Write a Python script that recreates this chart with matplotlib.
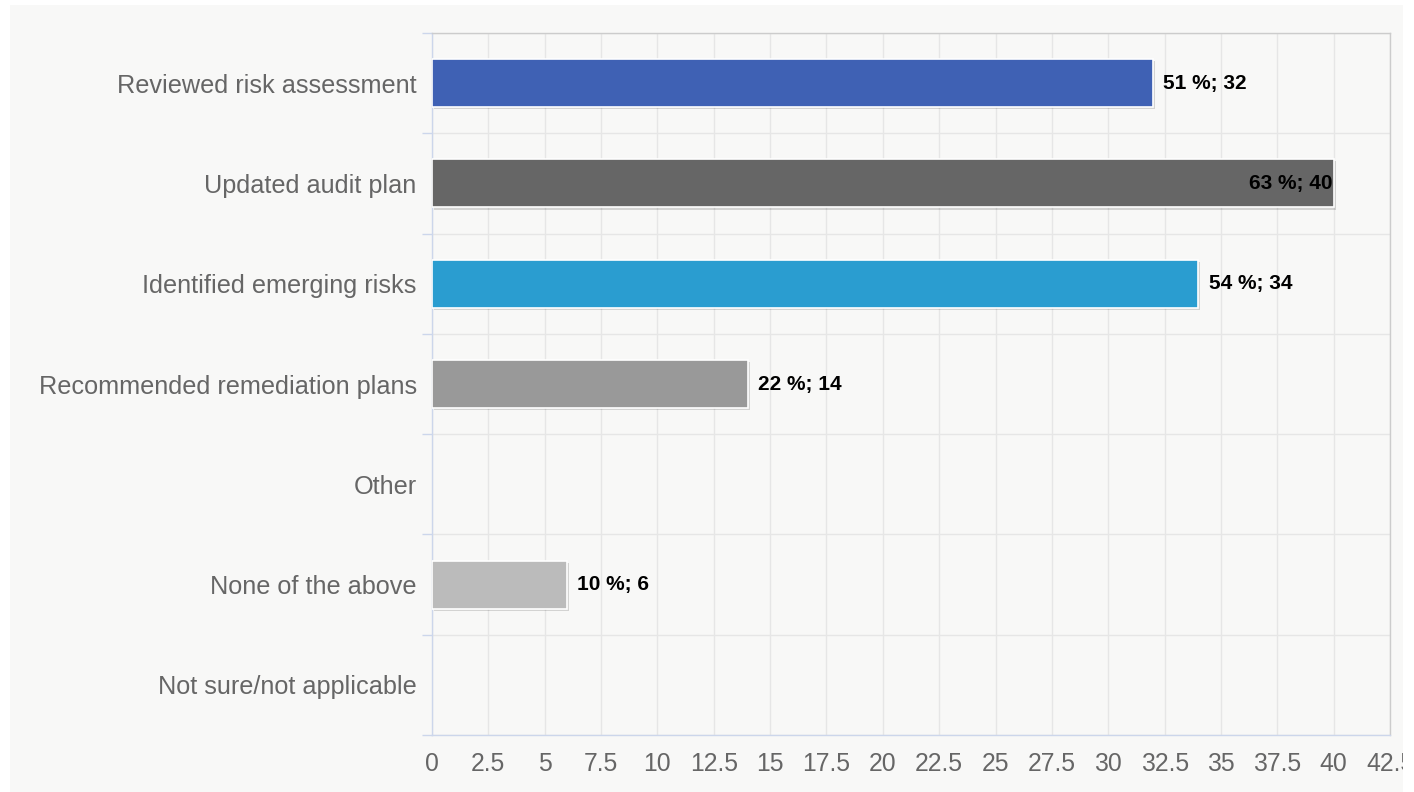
import matplotlib.pyplot as plt
import matplotlib.patheffects as pe
from matplotlib.patches import Rectangle
import numpy as np

categories = ["Reviewed risk assessment", "Updated audit plan", "Identified emerging risks",
              "Recommended remediation plans", "Other", "None of the above",
              "Not sure/not applicable"]
counts = [32, 40, 34, 14, 0, 6, 0]
percents = [51, 63, 54, 22, 0, 10, 0]
colors = ["#3f61b4", "#666666", "#2a9dd0", "#999999", "#bbbbbb", "#bbbbbb", "#bbbbbb"]
xticks = np.arange(0, 42.6, 2.5)

plt.rcParams['font.family'] = ['Liberation Sans', 'DejaVu Sans']

fig = plt.figure(figsize=(14.14, 7.92), dpi=100, facecolor='white')
# light panel behind the chart
fig.patches.append(Rectangle((10 / 1414, 0), 1393 / 1414, 787 / 792,
                             transform=fig.transFigure, facecolor='#f8f8f7',
                             edgecolor='none', zorder=-10))
# white margin on the right edge hides overflow of the last tick label
fig.patches.append(Rectangle((1403 / 1414, 0), 11 / 1414, 1,
                             transform=fig.transFigure, facecolor='white',
                             edgecolor='none', zorder=20))

ax = fig.add_axes([432 / 1414, 57 / 792, 958 / 1414, 702 / 792])
ax.set_zorder(5)
ax.set_facecolor('#f8f8f7')

y = np.arange(len(categories))
bars = ax.barh(y, counts, height=0.48, color=colors, edgecolor='white', linewidth=1.2,
               zorder=3)
for b, c in zip(bars, counts):
    if c == 0:
        b.set_linewidth(0)
        continue
    b.set_path_effects([pe.SimplePatchShadow(offset=(1.5, -1.5), shadow_rgbFace='black',
                                             alpha=0.15), pe.Normal()])

for yi, c, p in zip(y, counts, percents):
    if c == 0:
        continue
    txt = f"{p} %; {c}"
    if c >= 40:
        ax.text(c - 0.05, yi, txt, ha='right', va='center', fontsize=15,
                fontweight='bold', color='black', zorder=4)
    else:
        ax.text(c + 0.45, yi, txt, ha='left', va='center', fontsize=15,
                fontweight='bold', color='black', zorder=4)

ax.set_xlim(0, 42.5)
ax.set_ylim(len(categories) - 0.5, -0.5)
ax.set_xticks(xticks)
ax.set_xticklabels([f"{t:g}" for t in xticks])
ax.set_yticks(y)
ax.set_yticklabels(categories)
ax.set_yticks(np.arange(-0.5, len(categories)), minor=True)

ax.tick_params(axis='x', length=0, pad=12, labelsize=17.8, labelcolor='#666666')
ax.tick_params(axis='y', which='major', length=0, pad=11, labelsize=18.2,
               labelcolor='#666666')
ax.tick_params(axis='y', which='minor', length=7.5, width=1, color='#ccd6eb')

ax.grid(axis='x', which='major', color='#e6e6e6', linewidth=1, zorder=1)
ax.grid(axis='y', which='minor', color='#e6e6e6', linewidth=1, zorder=1)
ax.set_axisbelow(True)

ax.spines['left'].set_color('#ccd6eb')
ax.spines['bottom'].set_color('#ccd6eb')
ax.spines['top'].set_color('#cccccc')
ax.spines['right'].set_color('#cccccc')
for s in ax.spines.values():
    s.set_linewidth(1)

fig.savefig('out.png', dpi=100, facecolor=fig.get_facecolor())
